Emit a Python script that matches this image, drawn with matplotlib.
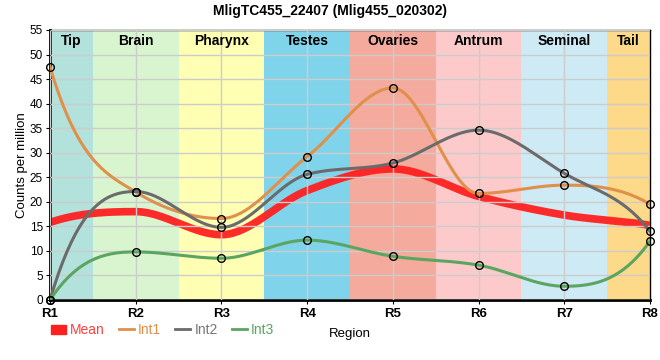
import numpy as np
import matplotlib
matplotlib.use("Agg")
import matplotlib.pyplot as plt
from matplotlib.lines import Line2D
from matplotlib.patches import Patch

plt.rcParams['font.family'] = ['Liberation Sans', 'DejaVu Sans']

regions = ['R1', 'R2', 'R3', 'R4', 'R5', 'R6', 'R7', 'R8']
int1 = [47.5, 22.0, 16.6, 29.2, 43.2, 21.7, 23.4, 19.5]
int2 = [0.0, 22.1, 14.8, 25.6, 27.9, 34.6, 25.8, 14.0]
int3 = [0.0, 9.8, 8.5, 12.2, 8.9, 7.1, 2.8, 12.0]
mean = [15.8, 18.0, 13.3, 22.3, 26.7, 21.1, 17.3, 15.2]

tissues = ['Tip', 'Brain', 'Pharynx', 'Testes', 'Ovaries', 'Antrum', 'Seminal', 'Tail']
tissue_colors = ['#b3e2dd', '#d9f5d0', '#ffffb3', '#7fd4eb', '#f4aa9c',
                 '#fccaca', '#cdeaf5', '#fdd98a']


def monotone_x(xs, ys, n=40, end=0.9):
    # monotone cubic smoothing, a bit steeper at the two ends
    xs = np.asarray(xs, float)
    ys = np.asarray(ys, float)
    h = np.diff(xs)
    s = np.diff(ys) / h
    t = np.zeros(len(xs))
    for i in range(1, len(xs) - 1):
        s0, s1 = s[i - 1], s[i]
        p = (s0 * h[i] + s1 * h[i - 1]) / (h[i - 1] + h[i])
        t[i] = (np.sign(s0) + np.sign(s1)) * min(abs(s0), abs(s1), 0.5 * abs(p))
    t[0] = (3 * s[0] - t[1]) * end
    t[-1] = (3 * s[-1] - t[-2]) * end
    px, py = [], []
    for i in range(len(xs) - 1):
        u = np.linspace(0, 1, n, endpoint=(i == len(xs) - 2))
        dx = h[i]
        x0, y0, x1, y1 = xs[i], ys[i], xs[i + 1], ys[i + 1]
        c = [(x0, y0), (x0 + dx / 3, y0 + dx * t[i] / 3),
             (x1 - dx / 3, y1 - dx * t[i + 1] / 3), (x1, y1)]
        b = [(1 - u) ** 3, 3 * u * (1 - u) ** 2, 3 * u ** 2 * (1 - u), u ** 3]
        px.append(sum(bi * ci[0] for bi, ci in zip(b, c)))
        py.append(sum(bi * ci[1] for bi, ci in zip(b, c)))
    return np.concatenate(px), np.concatenate(py)


fig = plt.figure(figsize=(6.6, 3.6), dpi=100)
ax = fig.add_axes([50 / 660, 60 / 360, 600 / 660, 270 / 360])

x = np.arange(len(regions))
for i, (name, col) in enumerate(zip(tissues, tissue_colors)):
    lo = max(i - 0.5, 0)
    hi = min(i + 0.5, len(regions) - 1)
    ax.axvspan(lo, hi, color=col, lw=0, zorder=0)
    ax.text((lo + hi) / 2, 52.7, name, ha='center', va='center',
            fontsize=10, fontweight='bold', zorder=5)

ax.grid(True, color='#cccccc', lw=1, zorder=1)
ax.set_axisbelow(False)

mx, my = monotone_x(x, mean)
ax.plot(mx, my, color='#ff2020', lw=5.5, alpha=0.95, solid_capstyle='butt', zorder=2)

series = [('Int1', int1, '#e0904a'), ('Int2', int2, '#6b6b6b'), ('Int3', int3, '#5aa55f')]
for name, vals, col in series:
    sx, sy = monotone_x(x, vals)
    ax.plot(sx, sy, color=col, lw=2.2, zorder=3)
    ax.plot(x, vals, 'o', ms=5.5, mfc='none', mec='black', mew=1, zorder=4, clip_on=False)

ax.set_xlim(0, len(regions) - 1)
ax.set_ylim(0, 55)
ax.set_xticks(x)
ax.set_xticklabels(regions, fontsize=9.5, fontweight='bold')
ax.set_yticks(np.arange(0, 56, 5))
ax.tick_params(axis='y', labelsize=8.5, length=3, pad=2)
ax.tick_params(axis='x', length=3, pad=3)
ax.set_ylabel('Counts per million', fontsize=9.5, labelpad=1)
ax.set_xlabel('Region', fontsize=9.5)
ax.xaxis.set_label_coords(300 / 600, -0.105)
for side in ['left', 'bottom']:
    ax.spines[side].set_linewidth(2)
for side in ['top', 'right']:
    ax.spines[side].set_linewidth(1)

fig.suptitle('MligTC455_22407 (Mlig455_020302)', fontsize=10, fontweight='bold', y=0.99)

handles = [Patch(color='#ff2020'),
           Line2D([], [], color='#e0904a', lw=2),
           Line2D([], [], color='#6b6b6b', lw=2),
           Line2D([], [], color='#5aa55f', lw=2)]
leg = fig.legend(handles, ['Mean', 'Int1', 'Int2', 'Int3'], ncol=4, frameon=False,
                 loc='center left', bbox_to_anchor=(38 / 660, 30 / 360),
                 fontsize=10, handlelength=1.1, handletextpad=0.3, columnspacing=1.0,
                 handleheight=0.6)
for txt, col in zip(leg.get_texts(), ['#ff4040', '#e0904a', '#777777', '#5aa55f']):
    txt.set_color(col)

fig.savefig('out.png', dpi=100)
